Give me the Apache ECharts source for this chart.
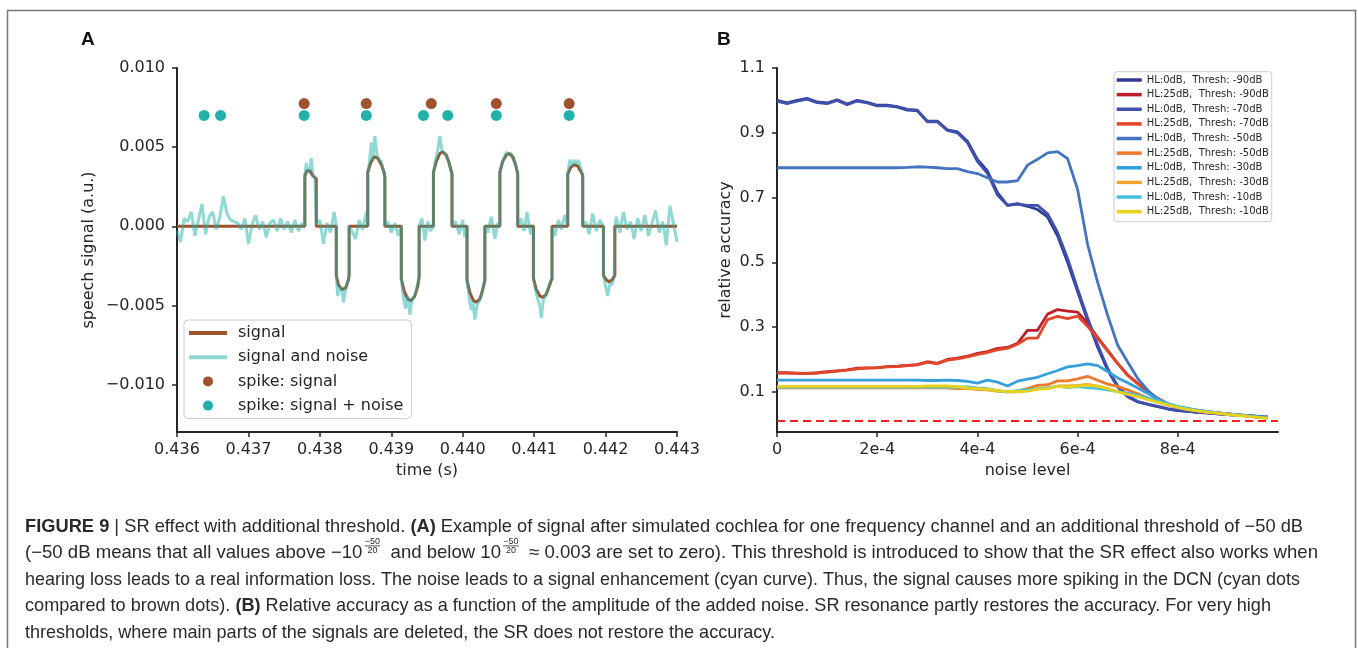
<!DOCTYPE html>
<html><head><meta charset="utf-8">
<script src="https://cdn.jsdelivr.net/npm/echarts@6/dist/echarts.min.js"></script>
<style>html,body{margin:0;padding:0;background:#fff}#c{width:1358px;height:648px}</style>
</head><body><div id="c"></div>
<script>
// ---------------- Panel A data ----------------
const timeTicks = [0.436, 0.437, 0.438, 0.439, 0.440, 0.441, 0.442, 0.443];
const ampTicks = [-0.010, -0.005, 0.000, 0.005, 0.010];
const signalPts = [
[0.43600,0],[0.43779,0],[0.43779,0.0032],[0.43782,0.0035],[0.43786,0.0035],[0.43790,0.0032],[0.43795,0.0030],[0.43795,0],
[0.43823,0],[0.43823,-0.0031],[0.43826,-0.0037],[0.43831,-0.0040],[0.43836,-0.0039],[0.43840,-0.0034],[0.43841,-0.0031],[0.43841,0],
[0.43867,0],[0.43867,0.0034],[0.43871,0.0040],[0.43876,0.0044],[0.43881,0.0043],[0.43886,0.0039],[0.43890,0.0034],[0.43891,0.0031],[0.43891,0],
[0.43914,0],[0.43914,-0.0033],[0.43918,-0.0041],[0.43923,-0.0046],[0.43928,-0.0047],[0.43933,-0.0044],[0.43937,-0.0038],[0.43939,-0.0032],[0.43939,0],
[0.43959,0],[0.43959,0.0034],[0.43963,0.0041],[0.43968,0.0046],[0.43972,0.0047],[0.43977,0.0045],[0.43981,0.0040],[0.43985,0.0033],[0.43985,0],
[0.44006,0],[0.44006,-0.0034],[0.44010,-0.0042],[0.44015,-0.0047],[0.44019,-0.0048],[0.44024,-0.0046],[0.44028,-0.0040],[0.44031,-0.0034],[0.44031,0],
[0.44052,0],[0.44052,0.0034],[0.44056,0.0041],[0.44061,0.0045],[0.44065,0.0046],[0.44070,0.0044],[0.44074,0.0039],[0.44077,0.0033],[0.44077,0],
[0.44099,0],[0.44099,-0.0033],[0.44103,-0.0040],[0.44108,-0.0044],[0.44112,-0.0045],[0.44117,-0.0043],[0.44121,-0.0038],[0.44125,-0.0033],[0.44125,0],
[0.44147,0],[0.44147,0.0033],[0.44151,0.0037],[0.44156,0.0039],[0.44161,0.0038],[0.44165,0.0035],[0.44168,0.0032],[0.44168,0],
[0.44197,0],[0.44197,-0.0031],[0.44201,-0.0034],[0.44205,-0.0035],[0.44209,-0.0034],[0.44213,-0.0031],[0.44213,0],[0.44300,0]
];
const noisyPts = [
[0.43600,-0.0003],[0.43605,-0.0010],[0.43610,0.0005],[0.43615,0.0003],[0.43620,0.0009],[0.43625,-0.0006],[0.43630,0.0004],[0.43635,0.0014],[0.43640,-0.0005],[0.43645,0.0006],[0.43650,0.0009],[0.43655,-0.0002],[0.43660,0.0006],[0.43665,0.0019],[0.43670,0.0008],[0.43675,0.0004],[0.43680,0.0003],[0.43685,0.0002],[0.43690,-0.0002],[0.43695,0.0005],[0.43700,-0.0011],[0.43705,0.0001],[0.43710,0.0007],[0.43715,-0.0002],[0.43720,0.0003],[0.43725,-0.0007],[0.43730,0.0002],[0.43735,0.0004],[0.43740,-0.0003],[0.43745,0.0005],[0.43750,-0.0002],[0.43755,0.0003],[0.43760,-0.0004],[0.43765,0.0004],[0.43770,-0.0003],[0.43775,0.0002],
[0.43779,0.0000],[0.43779,0.0032],[0.43781,0.0040],[0.43783,0.0034],[0.43786,0.0036],[0.43788,0.0043],[0.43790,0.0032],[0.43793,0.0031],[0.43795,0.0030],[0.43795,0.0001],
[0.43800,0.0004],[0.43805,-0.0011],[0.43810,0.0002],[0.43815,-0.0004],[0.43820,0.0009],[0.43823,0.0000],
[0.43823,-0.0031],[0.43825,-0.0044],[0.43828,-0.0038],[0.43831,-0.0041],[0.43833,-0.0048],[0.43836,-0.0040],[0.43839,-0.0035],[0.43841,-0.0031],[0.43841,0.0000],
[0.43845,-0.0003],[0.43850,-0.0008],[0.43855,0.0004],[0.43860,-0.0002],[0.43865,0.0009],[0.43867,0.0000],
[0.43867,0.0034],[0.43869,0.0039],[0.43872,0.0053],[0.43874,0.0042],[0.43877,0.0057],[0.43880,0.0045],[0.43883,0.0042],[0.43886,0.0041],[0.43889,0.0035],[0.43891,0.0031],[0.43891,0.0000],
[0.43895,0.0003],[0.43900,-0.0004],[0.43905,0.0002],[0.43910,-0.0006],[0.43914,0.0000],
[0.43914,-0.0033],[0.43917,-0.0045],[0.43920,-0.0052],[0.43923,-0.0044],[0.43926,-0.0056],[0.43929,-0.0046],[0.43932,-0.0045],[0.43935,-0.0040],[0.43938,-0.0034],[0.43939,-0.0032],[0.43939,0.0000],
[0.43943,0.0005],[0.43947,-0.0009],[0.43951,0.0003],[0.43955,-0.0003],[0.43959,0.0000],
[0.43959,0.0034],[0.43962,0.0042],[0.43965,0.0048],[0.43968,0.0057],[0.43971,0.0048],[0.43974,0.0046],[0.43977,0.0044],[0.43980,0.0041],[0.43983,0.0036],[0.43985,0.0033],[0.43985,0.0000],
[0.43990,0.0003],[0.43995,-0.0005],[0.44000,0.0004],[0.44003,-0.0007],[0.44006,0.0000],
[0.44006,-0.0034],[0.44009,-0.0045],[0.44012,-0.0053],[0.44014,-0.0047],[0.44017,-0.0059],[0.44020,-0.0050],[0.44023,-0.0047],[0.44026,-0.0044],[0.44029,-0.0038],[0.44031,-0.0034],[0.44031,0.0000],
[0.44035,-0.0004],[0.44040,0.0006],[0.44045,-0.0008],[0.44049,0.0002],[0.44052,0.0000],
[0.44052,0.0034],[0.44055,0.0040],[0.44058,0.0043],[0.44061,0.0047],[0.44064,0.0045],[0.44067,0.0046],[0.44070,0.0043],[0.44073,0.0040],[0.44076,0.0035],[0.44077,0.0033],[0.44077,0.0000],
[0.44081,0.0005],[0.44086,-0.0003],[0.44090,0.0009],[0.44095,-0.0005],[0.44099,0.0000],
[0.44099,-0.0033],[0.44102,-0.0040],[0.44105,-0.0046],[0.44108,-0.0050],[0.44110,-0.0058],[0.44113,-0.0046],[0.44116,-0.0044],[0.44119,-0.0040],[0.44122,-0.0036],[0.44125,-0.0033],[0.44125,0.0000],
[0.44129,-0.0006],[0.44134,0.0004],[0.44138,-0.0002],[0.44143,0.0007],[0.44147,0.0000],
[0.44147,0.0033],[0.44150,0.0042],[0.44153,0.0038],[0.44156,0.0042],[0.44159,0.0039],[0.44162,0.0042],[0.44165,0.0037],[0.44168,0.0032],[0.44168,0.0000],
[0.44172,0.0003],[0.44177,-0.0005],[0.44182,0.0008],[0.44187,-0.0003],[0.44192,0.0004],[0.44197,0.0000],
[0.44197,-0.0031],[0.44200,-0.0038],[0.44203,-0.0044],[0.44206,-0.0036],[0.44209,-0.0037],[0.44212,-0.0032],[0.44213,-0.0031],[0.44213,0.0000],
[0.44215,0.0006],[0.44220,-0.0004],[0.44225,0.0009],[0.44230,-0.0002],[0.44235,0.0003],[0.44240,-0.0008],[0.44245,0.0005],[0.44250,-0.0003],[0.44255,0.0007],[0.44260,-0.0006],[0.44265,0.0002],[0.44270,0.0010],[0.44275,-0.0004],[0.44280,0.0003],[0.44285,-0.0012],[0.44290,0.0013],[0.44295,0.0002],[0.44300,-0.0010]
];
const spikeSignalT = [0.43778, 0.43865, 0.43956, 0.44047, 0.44149];
const spikeSignalY = [0.00775, 0.00775, 0.00775, 0.00775, 0.00775];
const spikeNoiseT = [0.43638, 0.43661, 0.43778, 0.43865, 0.43945, 0.43979, 0.44047, 0.44149];
const spikeNoiseY = [0.0070, 0.0070, 0.0070, 0.0070, 0.0070, 0.0070, 0.0070, 0.0070];

// ---------------- Panel B data ----------------
const noiseLevels = [0,0.00002,0.00004,0.00006,0.00008,0.0001,0.00012,0.00014,0.00016,0.00018,0.0002,0.00022,0.00024,0.00026,0.00028,0.0003,0.00032,0.00034,0.00036,0.00038,0.0004,0.00042,0.00044,0.00046,0.00048,0.0005,0.00052,0.00054,0.00056,0.00058,0.0006,0.00062,0.00064,0.00066,0.00068,0.0007,0.00072,0.00074,0.00076,0.00078,0.0008,0.00082,0.00084,0.00086,0.00088,0.0009,0.00092,0.00094,0.00096,0.00098];
const noiseTickValues = [0, 0.0002, 0.0004, 0.0006, 0.0008];
const noiseTickLabels = ['0', '2e-4', '4e-4', '6e-4', '8e-4'];
const accTicks = [0.1, 0.3, 0.5, 0.7, 0.9, 1.1];
const chanceLevel = 0.011;
const accHL0m90 = [1.000,0.992,1.000,1.006,0.995,0.992,1.002,0.989,1.000,0.994,0.985,0.985,0.981,0.972,0.970,0.936,0.936,0.909,0.903,0.874,0.818,0.782,0.715,0.676,0.681,0.673,0.663,0.640,0.582,0.500,0.410,0.320,0.238,0.167,0.115,0.085,0.069,0.061,0.054,0.047,0.042,0.040,0.037,0.034,0.032,0.030,0.027,0.027,0.023,0.022];
const accHL25m90 = [0.159,0.159,0.158,0.157,0.159,0.162,0.165,0.168,0.173,0.174,0.175,0.178,0.179,0.182,0.184,0.193,0.188,0.200,0.204,0.210,0.219,0.224,0.234,0.237,0.250,0.290,0.290,0.340,0.354,0.349,0.346,0.312,0.268,0.228,0.188,0.152,0.126,0.101,0.080,0.063,0.053,0.047,0.043,0.038,0.035,0.032,0.029,0.026,0.022,0.020];
const accHL0m70 = [0.998,0.990,0.998,1.004,0.993,0.990,1.000,0.987,0.998,0.992,0.983,0.983,0.979,0.970,0.968,0.934,0.934,0.907,0.900,0.870,0.812,0.775,0.708,0.676,0.680,0.676,0.676,0.650,0.592,0.512,0.418,0.328,0.245,0.172,0.118,0.088,0.070,0.062,0.055,0.048,0.043,0.040,0.037,0.035,0.032,0.030,0.028,0.027,0.024,0.022];
const accHL25m70 = [0.158,0.158,0.157,0.156,0.158,0.161,0.164,0.167,0.171,0.173,0.174,0.177,0.178,0.181,0.183,0.191,0.187,0.198,0.202,0.208,0.216,0.221,0.230,0.234,0.247,0.266,0.266,0.323,0.333,0.326,0.334,0.302,0.265,0.226,0.187,0.151,0.125,0.100,0.079,0.062,0.052,0.047,0.042,0.038,0.035,0.032,0.029,0.026,0.022,0.020];
const accHL0m50 = [0.792,0.792,0.792,0.792,0.792,0.792,0.792,0.792,0.792,0.792,0.792,0.792,0.792,0.793,0.795,0.794,0.792,0.789,0.789,0.780,0.774,0.761,0.748,0.748,0.752,0.800,0.818,0.838,0.842,0.820,0.725,0.555,0.438,0.336,0.244,0.192,0.141,0.105,0.077,0.061,0.050,0.045,0.041,0.037,0.034,0.031,0.029,0.027,0.024,0.022];
const accHL25m50 = [0.112,0.112,0.112,0.112,0.112,0.112,0.112,0.112,0.112,0.112,0.112,0.112,0.112,0.112,0.112,0.112,0.112,0.112,0.110,0.111,0.108,0.106,0.102,0.100,0.102,0.110,0.120,0.122,0.134,0.134,0.140,0.148,0.136,0.124,0.117,0.106,0.094,0.081,0.070,0.060,0.052,0.046,0.041,0.037,0.034,0.031,0.028,0.025,0.022,0.020];
const accHL0m30 = [0.136,0.136,0.136,0.136,0.136,0.136,0.136,0.136,0.136,0.136,0.136,0.136,0.136,0.136,0.136,0.135,0.135,0.136,0.135,0.132,0.127,0.136,0.130,0.118,0.133,0.139,0.145,0.156,0.166,0.177,0.181,0.186,0.181,0.163,0.143,0.128,0.112,0.095,0.078,0.064,0.054,0.048,0.043,0.039,0.035,0.032,0.029,0.026,0.023,0.021];
const accHL25m30 = [0.113,0.113,0.113,0.113,0.113,0.113,0.113,0.113,0.113,0.113,0.113,0.113,0.113,0.113,0.113,0.113,0.114,0.114,0.112,0.110,0.109,0.107,0.103,0.100,0.100,0.104,0.110,0.112,0.118,0.118,0.120,0.123,0.118,0.110,0.101,0.094,0.087,0.078,0.069,0.060,0.052,0.046,0.041,0.037,0.034,0.031,0.028,0.025,0.021,0.018];
const accHL0m10 = [0.115,0.115,0.115,0.115,0.115,0.115,0.115,0.115,0.115,0.115,0.115,0.115,0.115,0.115,0.115,0.115,0.115,0.115,0.115,0.115,0.112,0.110,0.104,0.100,0.104,0.106,0.109,0.112,0.117,0.114,0.116,0.113,0.111,0.106,0.101,0.096,0.089,0.081,0.072,0.063,0.055,0.049,0.043,0.039,0.035,0.031,0.028,0.025,0.022,0.019];
const accHL25m10 = [0.117,0.117,0.117,0.117,0.117,0.117,0.117,0.117,0.117,0.117,0.117,0.117,0.117,0.117,0.117,0.118,0.118,0.118,0.116,0.112,0.110,0.108,0.104,0.101,0.101,0.102,0.108,0.110,0.117,0.115,0.118,0.120,0.117,0.110,0.100,0.092,0.085,0.076,0.068,0.060,0.052,0.046,0.041,0.037,0.034,0.030,0.027,0.024,0.021,0.018];
const accNames = ['HL:0dB,  Thresh: -90dB','HL:25dB,  Thresh: -90dB','HL:0dB,  Thresh: -70dB','HL:25dB,  Thresh: -70dB','HL:0dB,  Thresh: -50dB','HL:25dB,  Thresh: -50dB','HL:0dB,  Thresh: -30dB','HL:25dB,  Thresh: -30dB','HL:0dB,  Thresh: -10dB','HL:25dB,  Thresh: -10dB'];
const accSeries = [accHL0m90, accHL25m90, accHL0m70, accHL25m70, accHL0m50, accHL25m50, accHL0m30, accHL25m30, accHL0m10, accHL25m10];
const accColors = ['#2e3a93','#bd1f2a','#3f51ac','#e2472a','#4473c2','#ee7a2c','#35a0de','#eea42b','#43c0dc','#e6d11f'];

// ---------------- chart ----------------
const INK = '#262626';
const FONT = 'DejaVu Sans';
const chart = echarts.init(document.getElementById('c'), null, {renderer: 'canvas', width: 1358, height: 648});
const minus = v => (v < 0 ? '\u2212' + (-v).toFixed(3) : v.toFixed(3));

function axisCommon() {
  return {
    axisLine: {show: true, onZero: false, lineStyle: {color: INK, width: 2}},
    axisTick: {show: true, length: 5, lineStyle: {color: INK, width: 1.5}},
    splitLine: {show: false},
    nameMoveOverlap: false,
    nameTextStyle: {fontSize: 16, color: INK, fontFamily: FONT}
  };
}

const xA = Object.assign(axisCommon(), {
  gridIndex: 0, type: 'value', min: 0.436, max: 0.443,
  name: 'time (s)', nameLocation: 'middle', nameGap: 31,
  axisLabel: {customValues: timeTicks, formatter: v => v.toFixed(3), fontSize: 16, color: INK, fontFamily: FONT, margin: 10, showMinLabel: true, showMaxLabel: true}
});
xA.axisTick.customValues = timeTicks;
const yA = Object.assign(axisCommon(), {
  gridIndex: 0, type: 'value', min: -0.013, max: 0.010,
  name: 'speech signal (a.u.)', nameLocation: 'middle', nameGap: 80,
  axisLabel: {customValues: ampTicks, formatter: minus, fontSize: 16, color: INK, fontFamily: FONT, margin: 12, showMinLabel: true, showMaxLabel: true}
});
yA.axisTick.customValues = ampTicks;
const xB = Object.assign(axisCommon(), {
  gridIndex: 1, type: 'value', min: 0, max: 0.001,
  name: 'noise level', nameLocation: 'middle', nameGap: 31,
  axisLabel: {customValues: noiseTickValues, formatter: v => {
      let k = 0; noiseTickValues.forEach((t, i) => { if (Math.abs(t - v) < Math.abs(noiseTickValues[k] - v)) k = i; });
      return noiseTickLabels[k]; },
    fontSize: 16, color: INK, fontFamily: FONT, margin: 10, showMinLabel: true, showMaxLabel: true}
});
xB.axisTick.customValues = noiseTickValues;
const yB = Object.assign(axisCommon(), {
  gridIndex: 1, type: 'value', min: -0.024, max: 1.1,
  name: 'relative accuracy', nameLocation: 'middle', nameGap: 43,
  axisLabel: {customValues: accTicks, formatter: v => v.toFixed(1), fontSize: 16, color: INK, fontFamily: FONT, margin: 12, showMinLabel: true, showMaxLabel: true}
});
yB.axisTick.customValues = accTicks;

const series = [
  {name: 'signal', type: 'line', xAxisIndex: 0, yAxisIndex: 0, data: signalPts, showSymbol: false, symbol: 'none',
   lineStyle: {color: '#a0522d', width: 3}, itemStyle: {color: '#a0522d'}, z: 2},
  {name: 'signal and noise', type: 'line', xAxisIndex: 0, yAxisIndex: 0, data: noisyPts, showSymbol: false, symbol: 'none',
   lineStyle: {color: '#20b2aa', width: 3, opacity: 0.5}, itemStyle: {color: '#8fd8d4'}, z: 3},
  {name: 'spike: signal', type: 'scatter', xAxisIndex: 0, yAxisIndex: 0, symbolSize: 11,
   data: spikeSignalT.map((t, i) => [t, spikeSignalY[i]]), itemStyle: {color: '#a0522d', opacity: 1}, z: 4},
  {name: 'spike: signal + noise', type: 'scatter', xAxisIndex: 0, yAxisIndex: 0, symbolSize: 11,
   data: spikeNoiseT.map((t, i) => [t, spikeNoiseY[i]]), itemStyle: {color: '#20b2aa', opacity: 1}, z: 4}
];
accSeries.forEach((vals, k) => {
  const s = {name: accNames[k], type: 'line', xAxisIndex: 1, yAxisIndex: 1,
    data: noiseLevels.map((x, i) => [x, vals[i]]), showSymbol: false, symbol: 'none',
    lineStyle: {color: accColors[k], width: 2.8}, itemStyle: {color: accColors[k]}, z: 2};
  if (k === 0) {
    s.markLine = {silent: true, symbol: 'none', label: {show: false}, animation: false,
      lineStyle: {color: '#f22222', width: 2, type: [8, 5]}, data: [{yAxis: chanceLevel}]};
  }
  series.push(s);
});

// ---------------- caption layout ----------------
const capFamily = 'Liberation Sans';
const mctx = document.createElement('canvas').getContext('2d');
function tw(text, size, weight) { mctx.font = (weight || 'normal') + ' ' + size + 'px "' + capFamily + '"'; return mctx.measureText(text).width; }
function twRich(str, size) {
  let w = 0;
  str.split(/(\{b\|[^}]*\})/).forEach(p => {
    if (!p) return;
    const m = p.match(/^\{b\|([^}]*)\}$/);
    w += m ? tw(m[1], size, 'bold') : tw(p, size);
  });
  return w;
}
const capLines = [
  '{b|FIGURE 9} | SR effect with additional threshold. {b|(A)} Example of signal after simulated cochlea for one frequency channel and an additional threshold of \u221250 dB',
  null,
  'hearing loss leads to a real information loss. The noise leads to a signal enhancement (cyan curve). Thus, the signal causes more spiking in the DCN (cyan dots',
  'compared to brown dots). {b|(B)} Relative accuracy as a function of the amplitude of the added noise. SR resonance partly restores the accuracy. For very high',
  'thresholds, where main parts of the signals are deleted, the SR does not restore the accuracy.'
];
const capX = 25, capY0 = 527, capPitch = 26.4, capColor = '#2a2a2a';
const capEnds = [1303, 1318, 1300, 1271, 775];
const capFs = 16 * (capEnds[2] - capX) / tw(capLines[2], 16);
const graphics = [];
graphics.push({type: 'polyline', silent: true, shape: {points: [[7.5, 650], [7.5, 10.5], [1355.5, 10.5], [1355.5, 650]]},
  style: {stroke: '#777', lineWidth: 1.5, fill: null}});
graphics.push({type: 'text', x: 81, y: 40, style: {text: 'A', fontFamily: capFamily, fontWeight: 'bold', fontSize: 19, fill: '#111', verticalAlign: 'middle'}});
graphics.push({type: 'text', x: 717, y: 40, style: {text: 'B', fontFamily: capFamily, fontWeight: 'bold', fontSize: 19, fill: '#111', verticalAlign: 'middle'}});
capLines.forEach((t, i) => {
  if (t === null) return;
  const sx = Math.max(0.97, Math.min(1.04, (capEnds[i] - capX) / twRich(t, capFs)));
  graphics.push({type: 'text', x: capX, y: capY0 + i * capPitch, scaleX: sx, style: {text: t, fontFamily: capFamily, fontSize: capFs, fill: capColor,
    verticalAlign: 'middle', rich: {b: {fontWeight: 'bold', fontFamily: capFamily, fontSize: capFs, fill: capColor}}}});
});
// line 2 with the two stacked exponents
(function () {
  const y = capY0 + capPitch;
  const segs = ['(\u221250 dB means that all values above \u221210', ' and below 10', ' \u2248 0.003 are set to zero). This threshold is introduced to show that the SR effect also works when'];
  const fracFs = 9;
  const fw = tw('\u221250', fracFs);
  let natural = 0;
  segs.forEach((s, k) => { natural += tw(s, capFs); if (k < 2) natural += fw + 7; });
  const sx = Math.max(0.97, Math.min(1.04, (capEnds[1] - capX) / natural));
  let x = capX;
  segs.forEach((s, k) => {
    graphics.push({type: 'text', x: x, y: y, scaleX: sx, style: {text: s, fontFamily: capFamily, fontSize: capFs, fill: capColor, verticalAlign: 'middle'}});
    x += tw(s, capFs) * sx;
    if (k < 2) {
      const fx = x + 2 * sx;
      const w = fw * sx;
      graphics.push({type: 'text', x: fx + w / 2, y: y - 12, style: {text: '\u221250', fontFamily: capFamily, fontSize: fracFs, fill: capColor, align: 'center', verticalAlign: 'middle'}});
      graphics.push({type: 'line', shape: {x1: fx, y1: y - 7.5, x2: fx + w, y2: y - 7.5}, style: {stroke: capColor, lineWidth: 0.8}});
      graphics.push({type: 'text', x: fx + w / 2, y: y - 3, style: {text: '20', fontFamily: capFamily, fontSize: fracFs, fill: capColor, align: 'center', verticalAlign: 'middle'}});
      x = fx + w + 5 * sx;
    }
  });
})();

const option = {
  animation: false,
  backgroundColor: '#ffffff',
  grid: [
    {left: 177, top: 68, width: 500, height: 364, containLabel: false, outerBoundsMode: 'none'},
    {left: 777, top: 68, width: 501, height: 364, containLabel: false, outerBoundsMode: 'none'}
  ],
  xAxis: [xA, xB],
  yAxis: [yA, yB],
  legend: [
    {orient: 'vertical', left: 184, top: 320, selectedMode: false,
     itemWidth: 38, itemHeight: 10, itemGap: 4.2, padding: [3, 8, 3, 5],
     borderColor: '#cccccc', borderWidth: 1, borderRadius: 4, backgroundColor: 'rgba(255,255,255,0.8)',
     textStyle: {fontSize: 16, lineHeight: 20, color: INK, fontFamily: FONT, padding: [0, 0, 0, 6]},
     data: [
       {name: 'signal', icon: 'path://M0,0H38V4H0Z', itemStyle: {color: '#a0522d', borderWidth: 0}},
       {name: 'signal and noise', icon: 'path://M0,0H38V4H0Z', itemStyle: {color: '#8fd8d4', borderWidth: 0}},
       {name: 'spike: signal', icon: 'circle', itemStyle: {color: '#a0522d', borderWidth: 0}},
       {name: 'spike: signal + noise', icon: 'circle', itemStyle: {color: '#20b2aa', borderWidth: 0}}
     ]},
    {orient: 'vertical', left: 1114, top: 71.7, selectedMode: false,
     itemWidth: 25, itemHeight: 3.5, itemGap: 2.63, padding: [2.3, 3, 4, 2.7],
     borderColor: '#cccccc', borderWidth: 1, borderRadius: 3, backgroundColor: 'rgba(255,255,255,0.8)',
     textStyle: {fontSize: 10, lineHeight: 12, color: INK, fontFamily: FONT},
     data: accNames.map((n, k) => ({name: n, icon: 'rect', itemStyle: {color: accColors[k], borderWidth: 0}}))}
  ],
  series: series,
  graphic: graphics
};
chart.setOption(option);
</script>
</body></html>
